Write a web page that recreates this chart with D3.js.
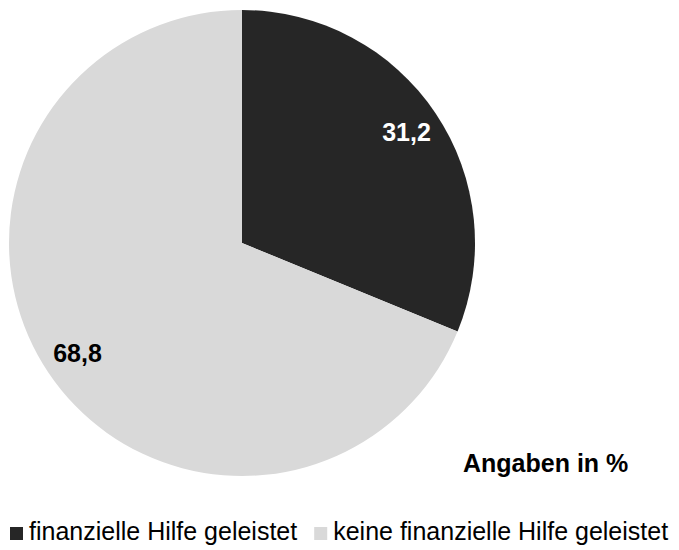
<!DOCTYPE html>
<html><head><meta charset="utf-8">
<script src="https://cdn.jsdelivr.net/npm/d3@7"></script>
<style>body{margin:0;background:#fff}svg{display:block}text{font-family:"Liberation Sans",Arial,sans-serif}</style>
</head><body><svg id="c" width="679" height="550"></svg>
<script>
const categories = ["finanzielle Hilfe geleistet", "keine finanzielle Hilfe geleistet"];
const values = [31.2, 68.8];
const labels = ["31,2", "68,8"];
const colors = ["#262626", "#d9d9d9"];
const labelColors = ["#ffffff", "#000000"];
const note = "Angaben in %";

const svg = d3.select("#c");
const cx = 242, cy = 243, r = 233;
const pie = d3.pie().sort(null).value(d => d)(values);
const arc = d3.arc().innerRadius(0).outerRadius(r);
const g = svg.append("g").attr("transform", `translate(${cx},${cy})`);
g.selectAll("path").data(pie).join("path").attr("d", arc).attr("fill", (d,i) => colors[i]);
const lr = r * 0.85;
const labelArc = d3.arc().innerRadius(lr).outerRadius(lr);
g.selectAll("text").data(pie).join("text")
  .attr("transform", d => `translate(${labelArc.centroid(d)})`)
  .attr("text-anchor", "middle").attr("dy", "0.35em")
  .attr("font-size", 25).attr("font-weight", "bold")
  .attr("fill", (d,i) => labelColors[i]).text((d,i) => labels[i]);

svg.append("text").attr("x", 463).attr("y", 472).attr("font-size", 25).attr("font-weight", "bold").text(note);

const leg = svg.append("g");
let x = 10;
categories.forEach((c, i) => {
  leg.append("rect").attr("x", x).attr("y", 527).attr("width", 13).attr("height", 13).attr("fill", colors[i]);
  const t = leg.append("text").attr("x", x + 19).attr("y", 540).attr("font-size", 25).text(c);
  x += 19 + t.node().getComputedTextLength() + 17;
});
</script></body></html>
